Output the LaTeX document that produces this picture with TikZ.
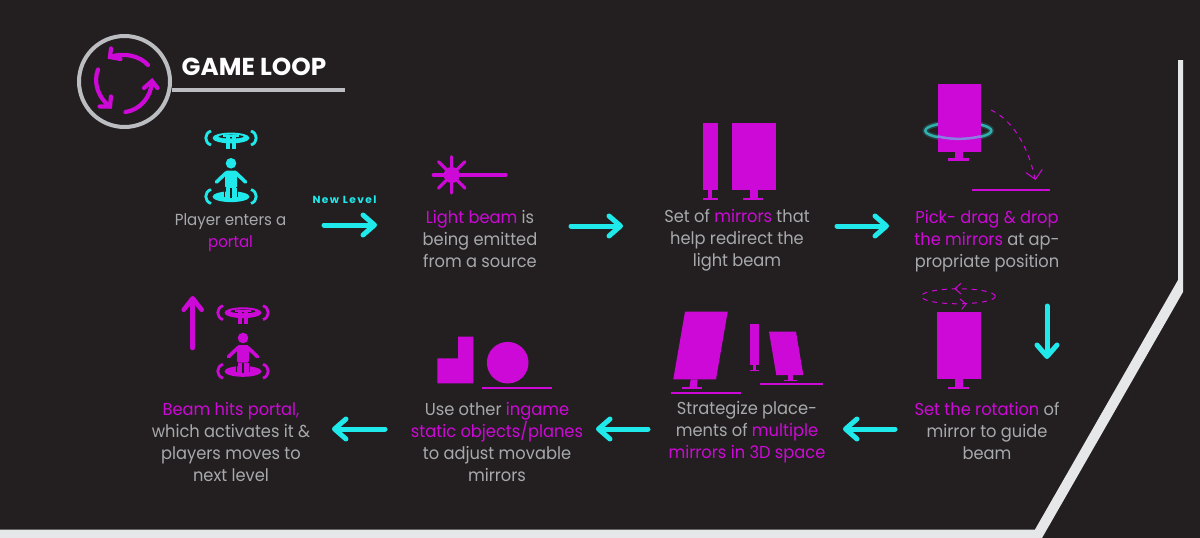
\documentclass[tikz,border=0pt]{standalone}
\usepackage{fontspec}
\setmainfont[FakeStretch=0.94]{Poppins}
\newfontfamily\newlevelfont[LetterSpace=14,FakeStretch=1.03]{Poppins}
\newfontfamily\titlefont[FakeStretch=1.01]{Poppins}
\usetikzlibrary{arrows.meta}
\definecolor{bgc}{HTML}{231F20}
\definecolor{mag}{HTML}{CC09D6}
\definecolor{cy}{HTML}{1FE9EA}
\definecolor{gry}{HTML}{A7A9AC}
\definecolor{rim}{HTML}{E6E7E8}
\definecolor{rng}{HTML}{BCBDC0}
\definecolor{teal}{HTML}{2FB0AF}
\newcommand{\mg}[1]{\textcolor{mag}{#1}}
\newcommand{\stand}[8]{% stalk x1,x2,y1,y2 and base x1,x2,y1,y2
  \fill[mag] (#1,#3) rectangle (#2,#4);
  \fill[mag] (#5,#7) rectangle (#6,#8);}
\newcommand{\portalicon}[1]{%
  \fill[#1] (231,138) ellipse [x radius=18.5,y radius=5.4];
  \fill[bgc] (231,136.6) ellipse [x radius=12.5,y radius=1.9];
  \fill[#1] (226.3,135.5) rectangle (229.9,149);
  \fill[#1] (231.9,135.5) rectangle (235.6,149);
  \fill[#1] (223,135.2) rectangle (239,137.2);
  \draw[#1,line width=2.8pt] (211,131) .. controls (204,133.5) and (204,142.5) .. (211,145);
  \draw[#1,line width=2.8pt] (251,131) .. controls (258,133.5) and (258,142.5) .. (251,145);
  \fill[#1] (231,163.3) circle [radius=5.3];
  \fill[#1] (231,196.7) ellipse [x radius=18.5,y radius=5.4];
  \draw[#1,line width=3.6pt,line cap=round] (226,173) -- (216.5,182);
  \draw[#1,line width=3.6pt,line cap=round] (236,173) -- (245.5,182);
  \fill[#1,rounded corners=1.5pt] (225,170.5) rectangle (237,188);
  \draw[bgc,line width=1.3pt] (224.6,197) -- (224.6,188.5) -- (237.4,188.5) -- (237.4,197);
  \fill[#1] (225.5,188) rectangle (229.9,198);
  \fill[#1] (232.1,188) rectangle (236.5,198);
  \fill[bgc] (229.9,190) rectangle (232.1,198);
  \draw[#1,line width=2.8pt] (211,189.5) .. controls (204,192) and (204,201) .. (211,203.5);
  \draw[#1,line width=2.8pt] (251,189.5) .. controls (258,192) and (258,201) .. (251,203.5);
}
\tikzset{
  x=1pt,y=-1pt,
  cyarrow/.style={cy,line width=5pt,line cap=round,-{Straight Barb[round,length=11.5pt,width=20pt,line width=5pt]}},
  magarrow/.style={mag,line width=4.6pt,line cap=round,-{Straight Barb[round,length=11.5pt,width=18pt,line width=4.6pt]}},
  loopstroke/.style={mag,line width=4.2pt,line cap=round,line join=miter},
  dashstroke/.style={mag,line width=1pt,dash pattern=on 5pt off 5pt},
  thinstroke/.style={mag,line width=1pt},
  ground/.style={mag,line width=2pt},
  caption/.style={text=gry,align=center,font=\fontsize{17.3}{22}\selectfont,inner sep=0pt,anchor=center},
}
\begin{document}
\begin{tikzpicture}
\useasboundingbox (0,0) rectangle (1200,538);
\fill[bgc] (0,0) rectangle (1200,538);
% frame
\fill[rim] (1178,60) -- (1183,60) -- (1183,292) -- (1042,538) -- (0,538) -- (0,529.5) -- (1035,529.5) -- (1178,280) -- cycle;
% title
\coordinate (rulea) at (172,90);
\coordinate (ruleb) at (345,90);
\draw[rng,line width=4pt] (124.5,81.5) circle [radius=45.5];
\draw[rng,line width=3.5pt] (rulea) -- (ruleb);
\node[inner sep=0pt,anchor=center,text=white,font=\titlefont\fontsize{24.5}{26}\selectfont\bfseries] (title) at (254,67) {GAME LOOP};
\draw[loopstroke] (148,65) .. controls (140,56) and (124,52) .. (110,57);
\draw[loopstroke] (111,48.5) -- (110,57) -- (120.5,59);
\draw[loopstroke] (98,69.5) .. controls (93,82) and (98,98) .. (110,106.5);
\draw[loopstroke] (99.5,106.5) -- (110,106.5) -- (111,96.5);
\draw[loopstroke] (125.5,112) .. controls (140,110) and (151,97) .. (152,82);
\draw[loopstroke] (144,88) -- (152,81) -- (157.5,88);
% portal 1
\portalicon{cy}
% portal 2
\begin{scope}[shift={(12,174.7)}]
\portalicon{mag}
\end{scope}
% laser
\draw[mag,line width=3.2pt,line cap=round] (433.3,175) -- (506,175);
\draw[mag,line width=3.2pt,line cap=round] (451.7,156.7) -- (451.7,193);
\draw[mag,line width=3.2pt,line cap=round] (438.5,161.7) -- (465,188.2);
\draw[mag,line width=3.2pt,line cap=round] (465,161.7) -- (438.5,188.2);
\fill[mag] (451.7,175) circle [radius=8];
% step 3 mirrors
\fill[mag] (703.3,122.7) rectangle (717.7,190);
\stand{708.3}{712}{190}{199}{703}{718}{198.3}{200}
\fill[mag] (732.3,122.7) rectangle (775.7,190);
\stand{750}{757.7}{190}{199}{743.3}{763.3}{198.3}{200}
% step 4
\draw[teal,opacity=.25,line width=5.5pt] (958.3,130.7) ellipse [x radius=33,y radius=8.2];
\draw[teal,line width=2.5pt] (958.3,130.7) ellipse [x radius=33,y radius=8.2];
\fill[mag] (937.7,84) rectangle (980.7,151.7);
\stand{955.3}{962.7}{151.7}{159}{948.3}{969}{158}{161}
\draw[color=teal!55!blue!60!white,opacity=.8,line width=2.5pt] (937.7,136.3) .. controls (950,139.7) and (967,139.7) .. (980.7,136.3);
\coordinate (gr4a) at (972,189.5);
\coordinate (gr4b) at (1050,189.5);
\draw[ground] (gr4a) -- (gr4b);
\draw[dashstroke] (991,110) .. controls (1012,120) and (1028,145) .. (1035,179);
\draw[thinstroke] (1026,172.7) -- (1035.5,179.3) -- (1042.3,169.3);
% step 5
\fill[mag] (937.3,311.7) rectangle (980.7,379.3);
\stand{955.3}{962.7}{379.3}{388}{948.3}{969}{387.3}{389}
\draw[dashstroke] (958.3,296.3) ellipse [x radius=37,y radius=7.5];
\draw[thinstroke] (961,283.3) -- (955,288.7) -- (961,294);
\draw[thinstroke] (960,299) -- (966,304) -- (961.7,309.3);
% step 6
\fill[mag] (685,311.7) -- (727.7,311.7) -- (716,379.3) -- (673.3,379.3) -- cycle;
\fill[mag] (690.7,379.3) -- (697.7,379.3) -- (696.7,388) -- (689.3,388) -- cycle;
\fill[mag] (682,387.3) rectangle (702.3,389);
\coordinate (gr6a) at (671,392.7);
\coordinate (gr6b) at (740.7,392.7);
\draw[ground] (gr6a) -- (gr6b);
\fill[mag] (750,324.3) rectangle (759,365);
\stand{753}{755.7}{365}{370}{750}{759}{369.7}{371}
\fill[mag] (769,331.7) -- (796,331.7) -- (803.3,375) -- (776.3,375) -- cycle;
\stand{787.7}{792.7}{375}{380}{784}{796.7}{379.7}{381}
\coordinate (gr6c) at (760.3,384);
\coordinate (gr6d) at (823.3,384);
\draw[ground] (gr6c) -- (gr6d);
% step 7
\fill[mag] (437.3,358.3) -- (458,358.3) -- (458,336.7) -- (473.3,336.7) -- (473.3,383.3) -- (437.3,383.3) -- cycle;
\fill[mag] (507.7,362.7) circle [radius=20.8];
\coordinate (gr7a) at (482,388);
\coordinate (gr7b) at (552,388);
\draw[ground] (gr7a) -- (gr7b);
% arrows
\coordinate (a1s) at (324,225); \coordinate (a1e) at (377,225);
\coordinate (a2s) at (571,226); \coordinate (a2e) at (623,226);
\coordinate (a3s) at (837,226); \coordinate (a3e) at (889,226);
\coordinate (a4s) at (1047,306); \coordinate (a4e) at (1047,359);
\coordinate (a5s) at (895,429); \coordinate (a5e) at (843,429);
\coordinate (a6s) at (648,429); \coordinate (a6e) at (596,429);
\coordinate (a7s) at (385,429); \coordinate (a7e) at (332,429);
\coordinate (a8s) at (192.7,348); \coordinate (a8e) at (192.7,296);
\draw[cyarrow] (a1s) -- (a1e);
\draw[cyarrow] (a2s) -- (a2e);
\draw[cyarrow] (a3s) -- (a3e);
\draw[cyarrow] (a4s) -- (a4e);
\draw[cyarrow] (a5s) -- (a5e);
\draw[cyarrow] (a6s) -- (a6e);
\draw[cyarrow] (a7s) -- (a7e);
\draw[magarrow] (a8s) -- (a8e);
% labels
\node[inner sep=0pt,text=cy,font=\newlevelfont\fontsize{10.3}{11}\selectfont\bfseries] (newlevel) at (344.5,200) {New Level};
\node[caption,font=\fontsize{16}{22}\selectfont] (t1) at (230.5,232.5) {Player enters a\\\mg{portal}};
\node[caption] (t2) at (480,239) {\mg{Light beam} is\\being emitted\\from a source};
\node[caption] (t3) at (737,240.5) {Set of \mg{mirrors} that\\help redirect the\\light beam};
\node[caption] (t4) at (987,241) {\mg{Pick- drag \& drop}\\\mg{the mirrors} at ap-\\propriate position};
\node[caption] (t5) at (987,431) {\mg{Set the rotation} of\\mirror to guide\\beam};
\node[caption] (t6) at (747,432.5) {Strategize place-\\ments of \mg{multiple}\\\mg{mirrors in 3D space}};
\node[caption] (t7) at (497,442) {Use other \mg{ingame}\\\mg{static objects/planes}\\to adjust movable\\mirrors};
\node[caption] (t8) at (231,442) {\mg{Beam hits portal,}\\which activates it \&\\players moves to\\next level};
\end{tikzpicture}
\end{document}
